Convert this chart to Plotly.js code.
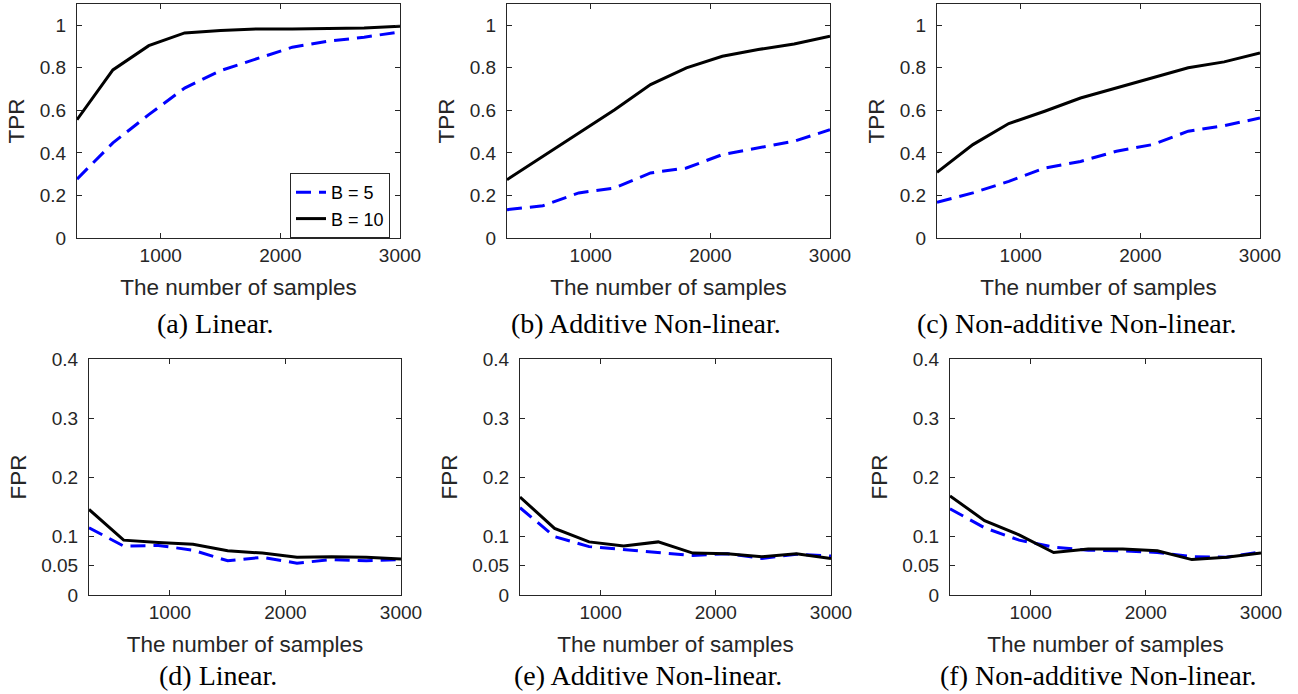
<!DOCTYPE html>
<html>
<head>
<meta charset="utf-8">
<script src="https://cdn.plot.ly/plotly-3.0.1.min.js"></script>
<style>html,body{margin:0;padding:0;background:#fff;}#chart{width:1298px;height:694px;}</style>
</head>
<body>
<div id="chart"></div>
<script>
// ---- data ----
const samples = [300, 600, 900, 1200, 1500, 1800, 2100, 2400, 2700, 3000];
const seriesNames = ["B = 5", "B = 10"];

const tprLinearB5  = [0.277, 0.447, 0.580, 0.705, 0.787, 0.842, 0.897, 0.925, 0.944, 0.969];
const tprLinearB10 = [0.556, 0.790, 0.904, 0.964, 0.976, 0.983, 0.983, 0.986, 0.987, 0.995];

const tprAddB5  = [0.133, 0.152, 0.212, 0.235, 0.306, 0.329, 0.392, 0.423, 0.455, 0.509];
const tprAddB10 = [0.274, 0.384, 0.494, 0.603, 0.721, 0.800, 0.854, 0.886, 0.912, 0.948];

const tprNonAddB5  = [0.168, 0.212, 0.266, 0.329, 0.360, 0.408, 0.439, 0.502, 0.528, 0.564];
const tprNonAddB10 = [0.309, 0.439, 0.538, 0.596, 0.658, 0.705, 0.752, 0.800, 0.828, 0.870];

const fprLinearB5  = [0.114, 0.083, 0.084, 0.076, 0.058, 0.064, 0.054, 0.060, 0.058, 0.060];
const fprLinearB10 = [0.145, 0.093, 0.089, 0.086, 0.075, 0.071, 0.064, 0.065, 0.064, 0.061];

const fprAddB5  = [0.148, 0.099, 0.082, 0.077, 0.072, 0.067, 0.070, 0.062, 0.069, 0.066];
const fprAddB10 = [0.166, 0.113, 0.090, 0.083, 0.090, 0.071, 0.070, 0.065, 0.070, 0.062];

const fprNonAddB5  = [0.146, 0.114, 0.093, 0.081, 0.076, 0.075, 0.072, 0.065, 0.064, 0.073];
const fprNonAddB10 = [0.168, 0.126, 0.102, 0.072, 0.078, 0.078, 0.075, 0.060, 0.064, 0.071];

const xTicks = [1000, 2000, 3000];
const tprTicks = [0, 0.2, 0.4, 0.6, 0.8, 1];
const tprTickText = ["0", "0.2", "0.4", "0.6", "0.8", "1"];
const fprTicks = [0, 0.05, 0.1, 0.2, 0.3, 0.4];
const fprTickText = ["0", "0.05", "0.1", "0.2", "0.3", "0.4"];

const xTitle = "The number of samples";
const captions = ["(a) Linear.", "(b) Additive Non-linear.", "(c) Non-additive Non-linear.",
                  "(d) Linear.", "(e) Additive Non-linear.", "(f) Non-additive Non-linear."];

// ---- layout helpers ----
const W = 1298, H = 694;
const AX = "#262626";
const SANS = "Liberation Sans, Arial, sans-serif";
const SERIF = "Liberation Serif, Times New Roman, serif";

const panels = [
  {b5: tprLinearB5, b10: tprLinearB10, px: [77, 400], py: [4, 238], yt: "TPR", ticks: tprTicks, tt: tprTickText, yr: [0, 1.1]},
  {b5: tprAddB5, b10: tprAddB10, px: [507, 830], py: [4, 238], yt: "TPR", ticks: tprTicks, tt: tprTickText, yr: [0, 1.1]},
  {b5: tprNonAddB5, b10: tprNonAddB10, px: [937, 1260], py: [4, 238], yt: "TPR", ticks: tprTicks, tt: tprTickText, yr: [0, 1.1]},
  {b5: fprLinearB5, b10: fprLinearB10, px: [89, 401], py: [359, 595], yt: "FPR", ticks: fprTicks, tt: fprTickText, yr: [0, 0.4]},
  {b5: fprAddB5, b10: fprAddB10, px: [520, 831], py: [359, 595], yt: "FPR", ticks: fprTicks, tt: fprTickText, yr: [0, 0.4]},
  {b5: fprNonAddB5, b10: fprNonAddB10, px: [950, 1261], py: [359, 595], yt: "FPR", ticks: fprTicks, tt: fprTickText, yr: [0, 0.4]}
];
const capPos = [[215, 323], [646, 323], [1077, 323], [218, 675], [648, 675], [1098, 675]];

const data = [];
const layout = {
  width: W, height: H,
  margin: {l: 0, r: 0, t: 0, b: 0},
  paper_bgcolor: "#fff", plot_bgcolor: "#fff",
  font: {family: SANS, color: AX, size: 19},
  showlegend: true,
  legend: {
    x: 390 / W, xanchor: "right", y: 1 - 173 / H, yanchor: "top",
    bgcolor: "#fff", bordercolor: AX, borderwidth: 1,
    font: {family: SANS, size: 18, color: "#000"},
    tracegroupgap: 0
  },
  annotations: []
};

panels.forEach((p, i) => {
  const n = i + 1;
  const xa = "x" + (n === 1 ? "" : n), ya = "y" + (n === 1 ? "" : n);
  data.push({
    x: samples, y: p.b5, xaxis: xa, yaxis: ya, type: "scatter", mode: "lines",
    name: seriesNames[0], showlegend: i === 0,
    line: {color: "#0000ff", width: 3, dash: "15px,8px"}
  });
  data.push({
    x: samples, y: p.b10, xaxis: xa, yaxis: ya, type: "scatter", mode: "lines",
    name: seriesNames[1], showlegend: i === 0,
    line: {color: "#000000", width: 3}
  });
  const common = {
    showline: true, linecolor: AX, linewidth: 1, mirror: "ticks",
    ticks: "inside", ticklen: 5, tickcolor: AX, tickwidth: 1,
    showgrid: false, zeroline: false,
    tickfont: {family: SANS, size: 19, color: AX}
  };
  layout["xaxis" + (n === 1 ? "" : n)] = Object.assign({}, common, {
    domain: [p.px[0] / W, p.px[1] / W],
    anchor: ya,
    range: [300, 3000],
    tickvals: xTicks, ticktext: xTicks.map(String),
    title: {text: xTitle, font: {family: SANS, size: 22.5, color: AX}, standoff: 14}
  });
  layout["yaxis" + (n === 1 ? "" : n)] = Object.assign({}, common, {
    domain: [1 - p.py[1] / H, 1 - p.py[0] / H],
    anchor: xa,
    range: p.yr,
    tickvals: p.ticks, ticktext: p.tt,
    ticklabelstandoff: 6,
    title: {text: p.yt, font: {family: SANS, size: 22.5, color: AX}, standoff: 8}
  });
  layout.annotations.push({
    text: captions[i], xref: "paper", yref: "paper",
    x: capPos[i][0] / W, y: 1 - capPos[i][1] / H, xanchor: "center", yanchor: "middle",
    showarrow: false, font: {family: SERIF, size: 28, color: "#000"}
  });
});

Plotly.newPlot("chart", data, layout, {displayModeBar: false, staticPlot: true});
</script>
</body>
</html>
